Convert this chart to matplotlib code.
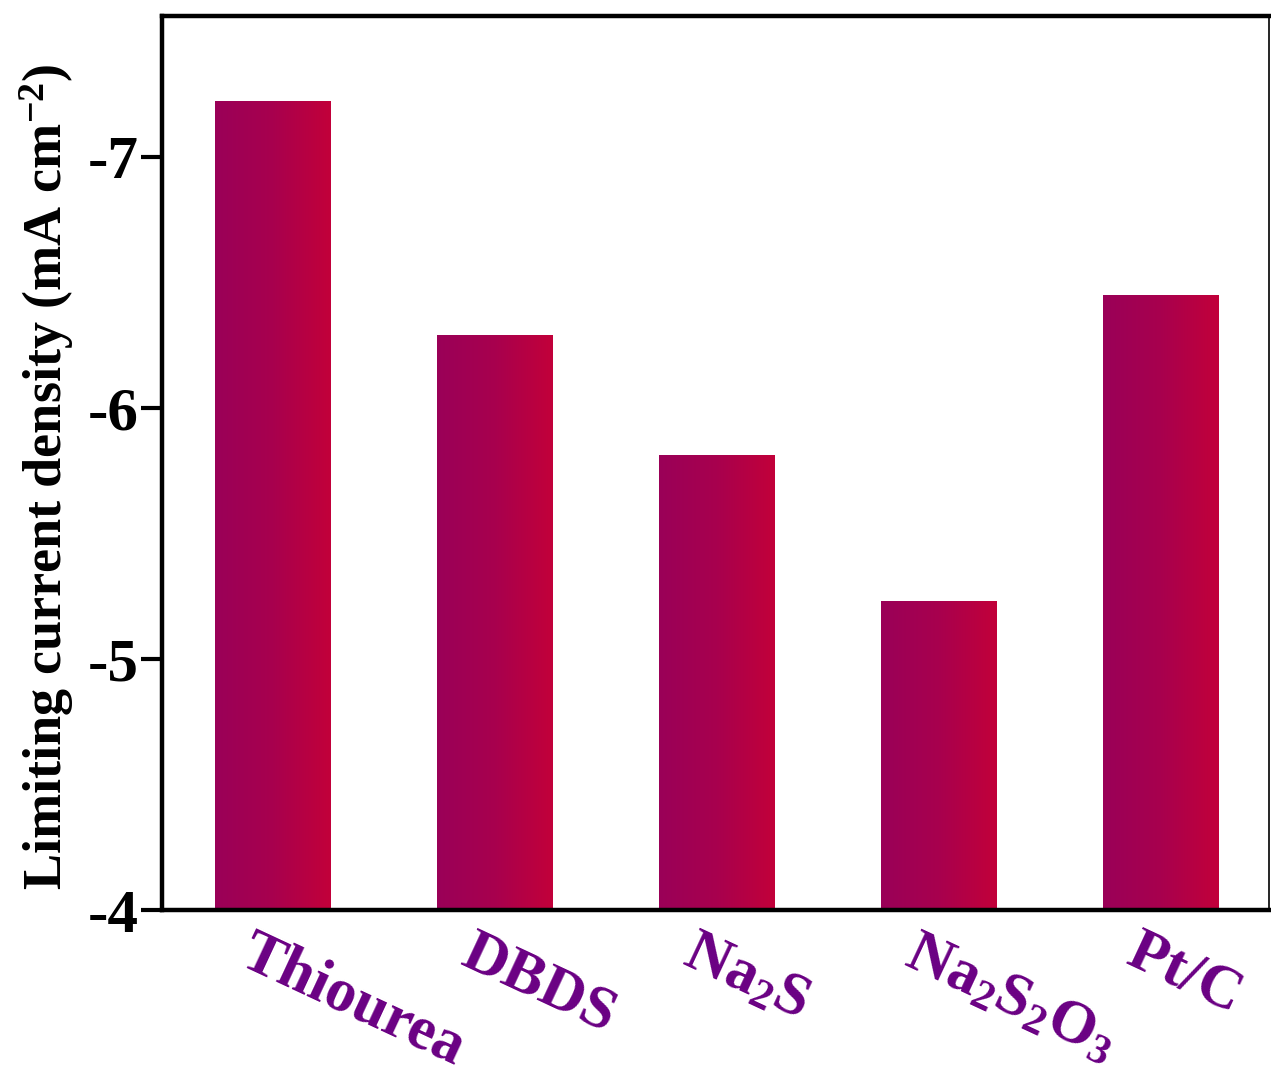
import matplotlib
matplotlib.use("Agg")
import matplotlib.pyplot as plt
import numpy as np
from matplotlib.colors import LinearSegmentedColormap
from matplotlib.transforms import blended_transform_factory

# ----------------------------
# DATA
# ----------------------------
CATEGORIES = ["Thiourea", "DBDS", "Na$_2$S", "Na$_2$S$_2$O$_3$", "Pt/C"]
LIMITING_CURRENT = [-7.22, -6.29, -5.81, -5.23, -6.45]
Y_TICKS = [-4, -5, -6, -7]
BASELINE = -4.0

LEFT_COLOR = "#9a0058"
RIGHT_COLOR = "#c2003a"
LABEL_COLOR = "#6a0083"

plt.rcParams["font.family"] = ["Liberation Serif", "DejaVu Serif"]
plt.rcParams["font.weight"] = "bold"
plt.rcParams["mathtext.fontset"] = "custom"
plt.rcParams["mathtext.rm"] = "Liberation Serif:bold"
plt.rcParams["mathtext.default"] = "rm"


def main() -> None:
    fig = plt.figure(figsize=(12.71, 10.89), dpi=100)
    ax = fig.add_axes([162 / 1271, 179 / 1089, 1107 / 1271, 894 / 1089])

    x = np.arange(len(CATEGORIES))
    heights = np.array(LIMITING_CURRENT) - BASELINE
    bars = ax.bar(x, heights, bottom=BASELINE, width=0.52,
                  facecolor="none", edgecolor="none")

    # horizontal purple -> red gradient inside each bar
    cmap = LinearSegmentedColormap.from_list("grad", [LEFT_COLOR, "#a8004e", RIGHT_COLOR])
    grad = np.linspace(0, 1, 256).reshape(1, -1)
    for bar in bars:
        x0 = bar.get_x()
        x1 = x0 + bar.get_width()
        y0 = bar.get_y()
        y1 = y0 + bar.get_height()
        im = ax.imshow(grad, cmap=cmap, aspect="auto",
                       extent=[x0, x1, min(y0, y1), max(y0, y1)],
                       origin="lower", zorder=2)
        im.set_clip_path(bar)

    ax.set_xlim(-0.5, 4.49)
    ax.set_ylim(BASELINE, -7.56)

    ax.set_yticks(Y_TICKS)
    ax.set_yticklabels([str(t) for t in Y_TICKS], fontsize=44, fontweight="bold")
    ax.tick_params(axis="y", direction="out", length=15, width=3, pad=2)
    ax.set_xticks([])

    for side in ["left", "top", "bottom"]:
        ax.spines[side].set_linewidth(3.2)
    ax.spines["right"].set_linewidth(1.2)

    ax.set_ylabel("Limiting current density (mA cm$^{-2}$)",
                  fontsize=39, fontweight="bold")
    ax.yaxis.set_label_coords(-0.078, 0.485)

    trans = blended_transform_factory(ax.transData, ax.transAxes)
    for xi, label in zip(x, CATEGORIES):
        ax.text(xi - 0.08, -0.016, label, transform=trans,
                rotation=-25, rotation_mode="anchor", ha="left", va="top",
                fontsize=44, fontweight="bold", color=LABEL_COLOR)

    fig.savefig("out.png", dpi=100)
    plt.close(fig)


if __name__ == "__main__":
    main()
